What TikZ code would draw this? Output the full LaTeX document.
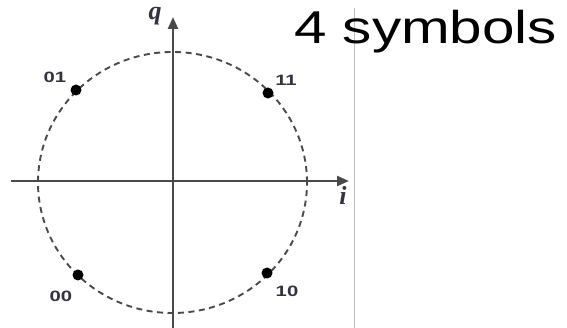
\documentclass[tikz,border=0pt]{standalone}
\usepackage{fontspec}
\setmainfont{Liberation Serif}
\setsansfont{Liberation Sans}
\usepackage{graphicx}
\usepackage{tikz}
\usetikzlibrary{arrows.meta,positioning}
\definecolor{axisgray}{HTML}{4A4A4A}
\definecolor{labgray}{HTML}{333340}

\begin{document}
\begin{tikzpicture}[x=1pt,y=-1pt,
  axis/.style={draw=axisgray,line width=2.3pt,-{Triangle[length=12pt,width=10pt]}},
  ring/.style={draw=axisgray,line width=1.9pt,dash pattern=on 6pt off 4.5pt},
  pt/.style={circle,fill=black,inner sep=0pt,minimum size=11pt},
  lab/.style={font=\sffamily\bfseries\fontsize{15}{15}\selectfont,text=labgray,inner sep=0pt},
  axlab/.style={font=\bfseries\itshape\fontsize{26}{26}\selectfont,text=labgray,inner sep=0pt}
]
\useasboundingbox (0,0) rectangle (567,328);
% axes
\coordinate (iin) at (11,181);
\coordinate (iout) at (349,181);
\coordinate (qin) at (173,328);
\coordinate (qout) at (173,17);
\draw[ring] (172.5,182.5) ellipse [x radius=134.5pt,y radius=130.5pt];
\draw[axis] (iin) -- (iout);
\draw[axis] (qin) -- (qout);
\node[axlab] (q) at (155,16) {q};
\node[axlab] (i) at (343,195) {i};
% symbols
\node[pt] (s01) at (76,90) {};
\node[pt] (s11) at (268,93) {};
\node[pt] (s00) at (78,275) {};
\node[pt] (s10) at (267,273) {};
\node[lab] (l01) at (55,77) {\scalebox{1.35}[1]{01}};
\node[lab] (l11) at (286,80) {\scalebox{1.35}[1]{11}};
\node[lab] (l00) at (61,296) {\scalebox{1.35}[1]{00}};
\node[lab] (l10) at (287,291) {\scalebox{1.35}[1]{10}};
% title and divider
\draw[black!25,line width=0.8pt] (354,8) -- (354,328);
\node[anchor=base west,inner sep=0pt,font=\sffamily\fontsize{46}{46}\selectfont] (title) at (294,44)
  {\scalebox{1.27}[1]{4 symbols}};
\end{tikzpicture}
\end{document}
